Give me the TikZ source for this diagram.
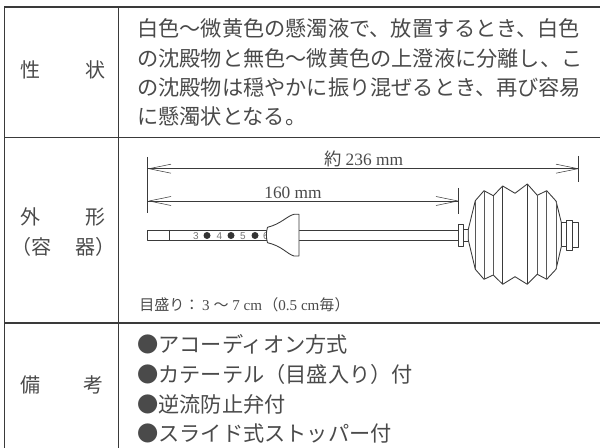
\documentclass[tikz,border=0pt]{standalone}
\usepackage{fontspec}
\setmainfont{Liberation Serif}
\newfontfamily\cjk{Noto Sans CJK JP}
\newfontfamily\armfont{Liberation Sans}
\definecolor{ink}{HTML}{3A3A3A}
\definecolor{txt}{HTML}{4A4A4A}
\newcommand{\fwl}{\symbol{"FF08}}
\newcommand{\fwr}{\symbol{"FF09}}
\newcommand{\fwc}{\symbol{"FF1A}}
\tikzset{
 rule/.style={draw=ink,line width=0.8pt},
 part/.style={draw=ink,line width=0.65pt,line join=round},
 dim/.style={draw=ink,line width=0.65pt},
 head/.style={inner sep=0,text=txt,font=\cjk\fontsize{15}{15}\selectfont},
 body/.style={anchor=base west,inner sep=0,text=txt,font=\cjk\fontsize{15.9}{15.9}\selectfont},
 small/.style={inner sep=0,text=txt,font=\fontsize{11.3}{11.3}\selectfont},
 dimtext/.style={inner sep=0,text=txt,font=\fontsize{13}{13}\selectfont},
 tick/.style={inner sep=0,text=ink!70,font=\armfont\fontsize{7.5}{7.5}\selectfont},
}
\begin{document}
\begin{tikzpicture}[x=0.75pt,y=-0.75pt]
\useasboundingbox (0,0) rectangle (600,448);
\draw[rule] (4.7,448) -- (4.7,7) -- (600,7);
\draw[rule] (4.7,137.5) -- (600,137.5);
\draw[rule] (4.7,323) -- (600,323);
\draw[rule] (118.5,7) -- (118.5,448);
\node[head] (a1) at (31,70) {性};
\node[head] (a2) at (95,70) {状};
\node[head] (b1) at (31,217) {外};
\node[head] (b2) at (95,217) {形};
\node[head,anchor=east] (b3) at (52,247) {\fwl 容};
\node[head,anchor=west] (b4) at (75,247) {器\fwr};
\node[head] (c1) at (30,385) {備};
\node[head] (c2) at (93,385) {考};
\node[body] (t1) at (137,37) {白色〜微黄色の懸濁液で、放置するとき、白色};
\node[body] (t2) at (137,67) {の沈殿物と無色〜微黄色の上澄液に分離し、こ};
\node[body] (t3) at (137,96) {の沈殿物は穏やかに振り混ぜるとき、再び容易};
\node[body] (t4) at (137,125) {に懸濁状となる。};
\node[body] (n1) at (137,353) {●アコーディオン方式};
\node[body] (n2) at (137,383) {●カテーテル\fwl 目盛入り\fwr 付};
\node[body] (n3) at (137,413) {●逆流防止弁付};
\node[body] (n4) at (137,442) {●スライド式ストッパー付};
% dimensions
\draw[dim] (147.5,157) -- (147.5,213);
\draw[dim] (578.7,156) -- (578.7,182);
\draw[dim] (458,188) -- (458,214);
\draw[dim] (148,168.7) -- (578,168.7);
\draw[dim] (148,201) -- (458,201);
\foreach \x/\s in {149/1,578/-1}{\draw[dim,line width=.4pt] (\x,168.7) -- ++(\s*22,-4.5) (\x,168.7) -- ++(\s*22,4.5);}
\foreach \x/\s in {149/1,458/-1}{\draw[dim,line width=.4pt] (\x,201) -- ++(\s*22,-4.5) (\x,201) -- ++(\s*22,4.5);}
\node[dimtext] (d1) at (363.5,159) {{\cjk 約} 236 mm};
\node[dimtext] (d2) at (293,193) {160 mm};
% catheter
\draw[part] (147.5,230) rectangle (268,240);
\draw[part] (169.5,230) -- (169.5,240);
\draw[part] (299,230) -- (458,230) (299,240) -- (458,240);
\foreach \x/\n in {196/3,219.5/4,243/5,266/6}{\node[tick] (m\n) at (\x,235.7) {\n};}
\foreach \x in {207,231,255}{\fill[ink!90!black] (\x,235.5) circle (3.5);}
% stopper
\draw[part,fill=white] (299,214.3) -- (294,214.3) .. controls (287,216) and (281,224) .. (267.5,227.3) .. controls (266,232) and (266,238) .. (267.5,242.7) .. controls (282,246) and (287,254) .. (294,256) -- (299,256) -- cycle;
% valve
\draw[part,fill=white] (458.3,224) rectangle (463.7,246);
\draw[part,fill=white] (463.7,229.3) rectangle (468.3,241);
% bellows
\draw[part,fill=white] (468.3,229.3) -- (475.3,200.7) -- (484,190.7) -- (493.3,195.7) -- (502.7,186) -- (515,193.3) -- (527.3,184) -- (537.3,195.3) -- (546.7,190.7) -- (556,201) -- (561.3,222.3) -- (561.3,246.7) -- (556,269.3) -- (546.7,279.3) -- (537.3,274.3) -- (527.3,284.3) -- (515,276.7) -- (502.7,284.3) -- (493.3,275) -- (484,279.3) -- (475.3,269.3) -- (468.3,240) -- cycle;
\draw[part,ink!85] (475.3,200.7) -- (475.3,269.3);
\draw[part,ink!85] (484,190.7) -- (484,279.3);
\draw[part,ink!85] (493.3,195.7) -- (493.3,275);
\draw[part] (502.7,186) -- (502.7,284.3);
\draw[part,line width=.8pt] (527.3,184) -- (527.3,284.3);
\draw[part,ink!85] (537.3,195.3) -- (537.3,274.3);
\draw[part,ink!85] (546.7,190.7) -- (546.7,279.3);
\draw[part,ink!85] (556,201) -- (556,269.3);
% end cap
\draw[part,fill=white] (561.3,222.3) rectangle (566.7,246.7);
\draw[part,fill=white] (572.7,222.3) rectangle (578.7,247.3);
\draw[part,fill=white] (566.7,220) rectangle (572.7,250);
\node[small,anchor=west] (cap) at (139,305) {{\cjk 目盛り\fwc}\hspace{2pt}3 {\cjk 〜} 7 cm\hspace{1pt}{\cjk \fwl}0.5 cm{\cjk 毎\fwr}};
\end{tikzpicture}
\end{document}
